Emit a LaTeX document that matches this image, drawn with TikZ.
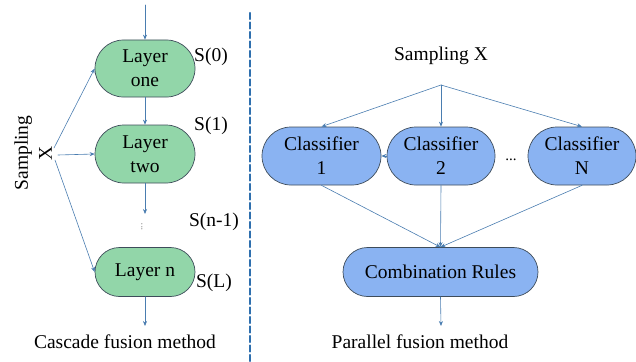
\documentclass[tikz,border=0pt]{standalone}
\usepackage{fontspec}
\setmainfont{Liberation Serif}[Ligatures=TeX]
\usetikzlibrary{arrows.meta,calc,positioning,shapes.misc}
\definecolor{fsInk}{HTML}{3E4C5A}
\definecolor{fsGreen}{HTML}{92D6A9}
\definecolor{fsBlue}{HTML}{8AB3F2}
\definecolor{fsLine}{HTML}{4A7DB0}
\definecolor{fsDash}{HTML}{2E6FAE}
\tikzset{
 fusion/.style={font=\rmfamily\fontsize{19.5}{24}\selectfont,line cap=round,line join=round},
 pill/.style={rounded rectangle,draw=fsInk,line width=.7pt,inner sep=0pt,align=center},
 layer/.style={pill,fill=fsGreen,minimum width=100pt},
 clf/.style={pill,fill=fsBlue,minimum height=58pt},
 slabel/.style={inner sep=0pt},
 link/.style={draw=fsLine,line width=.6pt,-{Stealth[length=5pt,width=4pt]}},
 divider/.style={draw=fsDash,line width=2.2pt,dash pattern=on 6pt off 3.5pt},
 caption/.style={inner sep=0pt}
}

\begin{document}
\begin{tikzpicture}[fusion,x=1pt,y=-1pt]
 \useasboundingbox (0,0) rectangle (636,361);
 % cascade side
 \node[layer,minimum height=57pt] (one) at (145,68.5) {Layer\\one};
 \node[layer,minimum height=58pt] (two) at (145,154) {Layer\\two};
 \node[layer,minimum height=49pt] (lastL) at (145,272) {Layer n};
 \node[text=gray,font=\rmfamily\fontsize{10}{10}\selectfont,inner sep=0pt,rotate=90] (vdotsL) at (142,227) {...};
 \node[slabel] (s0) at (211,57) {S(0)};
 \node[slabel] (s1) at (211,126) {S(1)};
 \node[slabel] (sn) at (214,222) {S(n-1)};
 \node[slabel] (sL) at (214,283) {S(L)};
 \node[rotate=90,align=center,inner sep=0pt] (sampL) at (33,153) {Sampling\\X};
 \node[caption] (casc) at (125,342) {Cascade fusion method};
 \coordinate (inL) at (145,5);
 \coordinate (gapL) at (145,214);
 \coordinate (outL) at (145,326);
 \coordinate (sx1) at (54,148); \coordinate (sx2) at (58,155);
 \coordinate (sx3) at (55,160);
 \draw[link] (inL)--(one.north);
 \draw[link] (one.south)--(two.north);
 \draw[link] (two.south)--(gapL);
 \draw[link] (lastL.south)--(outL);
 \draw[link] (sx1)--(one.west);
 \draw[link] (sx2)--(two.west);
 \draw[link] (sx3)--(lastL.west);
 % divider
 \coordinate (dTop) at (250,13); \coordinate (dBot) at (250,361);
 \draw[divider] (dTop)--(dBot);
 % parallel side
 \node[inner sep=0pt] (sampR) at (441,56) {Sampling X};
 \node[clf,minimum width=119pt] (c1) at (321.5,156) {Classifier\\1};
 \node[clf,minimum width=108pt] (c2) at (441,156) {Classifier\\2};
 \node[clf,minimum width=108pt] (cN) at (582,156) {Classifier\\N};
 \node[font=\rmfamily\fontsize{15}{15}\selectfont,inner sep=0pt] (dotsR) at (511,160) {...};
 \node[pill,fill=fsBlue,minimum width=195pt,minimum height=49pt] (comb) at (440.5,272) {Combination Rules};
 \node[caption] (para) at (420,342) {Parallel fusion method};
 \coordinate (fork) at (441,85);
 \coordinate (outR) at (441,326);
 \draw[link] (fork)--(c1.north);
 \draw[link] (fork)--(c2.north);
 \draw[link] (fork)--(cN.north);
 \draw[link] (c2.west)--(c1.east);
 \draw[link] (c1.south)--(comb.north);
 \draw[link] (c2.south)--(comb.north);
 \draw[link] (cN.south)--(comb.north);
 \draw[link] (comb.south)--(outR);
\end{tikzpicture}
\end{document}
